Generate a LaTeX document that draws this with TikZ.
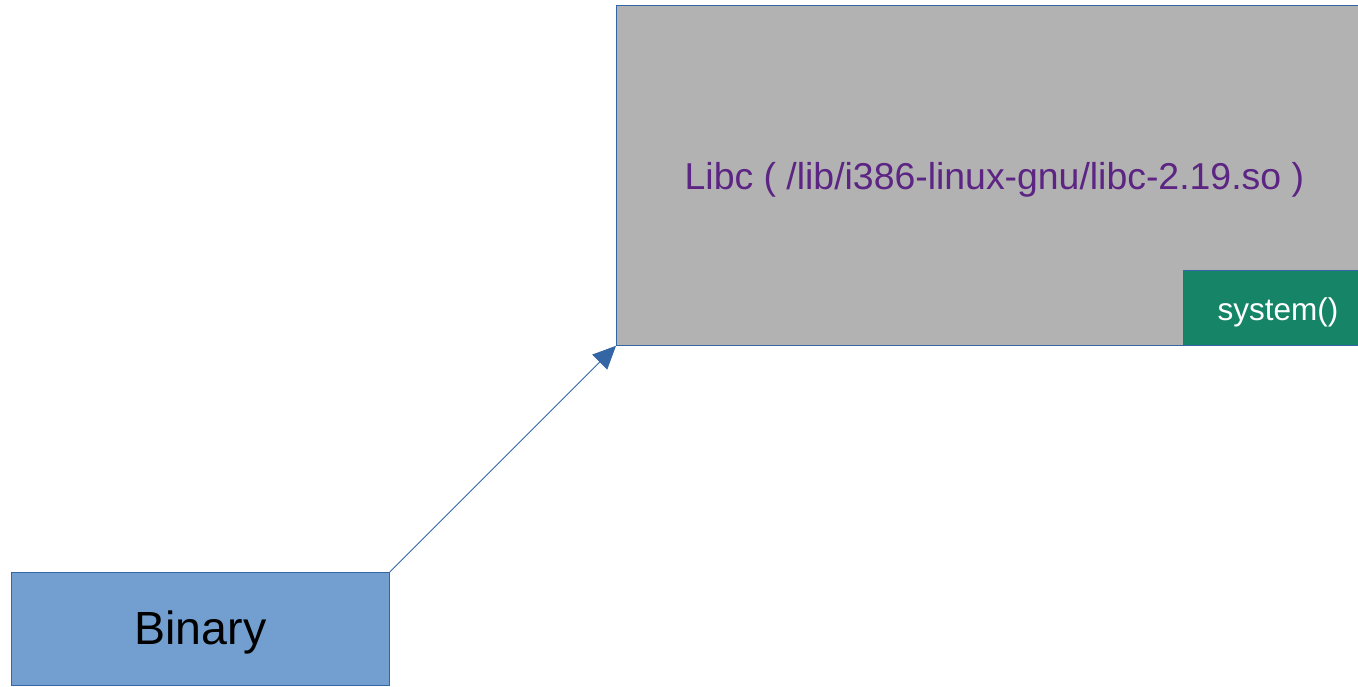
\documentclass[tikz,border=0pt]{standalone}
\usepackage{fontspec}
\setmainfont{Liberation Sans}
\usetikzlibrary{arrows.meta}
\definecolor{edgeblue}{HTML}{3465A4}
\definecolor{libgray}{HTML}{B2B2B2}
\definecolor{sysgreen}{HTML}{168467}
\definecolor{binblue}{HTML}{729FCF}
\definecolor{libtext}{HTML}{5C2483}
\tikzset{
  block/.style={draw=edgeblue, line width=0.8pt, anchor=north west, inner sep=0pt},
  label text/.style={inner sep=0pt, yshift=-4pt},
  link/.style={draw=edgeblue, line width=0.8pt, -{Triangle[length=23pt,width=21pt]}}
}
\begin{document}
\begin{tikzpicture}[x=1pt,y=-1pt]
\useasboundingbox (0,0) rectangle (1358,686);
\clip (0,0) rectangle (1358,686);
% shared library region
\node[block, fill=libgray, minimum width=756pt, minimum height=340pt] (libc) at (616,5) {};
\node[label text, text=libtext, font=\fontsize{37.4}{44}\selectfont] (libclabel) at (libc.center) {Libc ( /lib/i386-linux-gnu/libc-2.19.so )};
% system() entry inside libc
\node[block, fill=sysgreen, minimum width=189pt, minimum height=75pt] (sys) at (1183,270) {};
\node[label text, text=white, font=\fontsize{31.5}{38}\selectfont] (syslabel) at (sys.center) {system()};
% program
\node[block, fill=binblue, minimum width=378pt, minimum height=113pt] (bin) at (11,572) {};
\node[label text, font=\fontsize{46.5}{56}\selectfont] (binlabel) at (bin.center) {Binary};
\draw[link] (bin.north east) -- (libc.south west);
\end{tikzpicture}
\end{document}
